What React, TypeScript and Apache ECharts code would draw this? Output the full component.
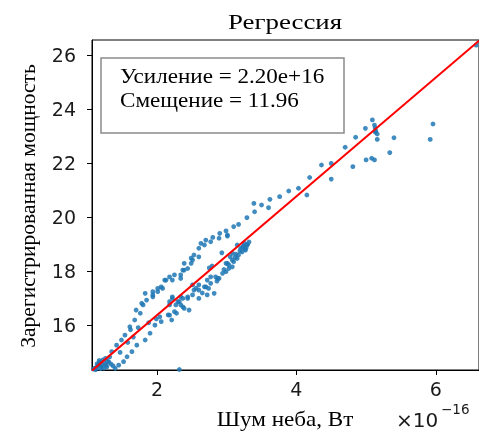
import React, { useEffect, useRef } from "react";
import * as echarts from "echarts";

// Sky noise (×1e-16 W) vs registered power
const noiseX: number[] = [
  5.09, 4.99, 5.12, 5.13, 5.14, 5.16, 5.13, 5.16, 5.40, 5.96, 5.92, 4.85, 4.70, 5.34, 5.00, 5.08, 5.12, 4.81, 4.36, 4.50,
  4.19, 4.50, 4.03, 3.89, 3.76, 4.15, 6.58,
  3.62, 3.39, 3.50, 3.60, 3.40, 3.29, 3.17, 3.10, 2.99, 2.90, 3.01, 2.80, 2.70, 2.63,
  3.25, 3.29, 3.26, 3.22, 3.17, 3.27, 3.32, 3.23, 2.93, 3.08, 3.03, 2.99, 2.79, 2.75,
  3.01, 2.89, 2.77, 2.68, 2.60, 2.53, 2.49, 2.39, 2.37, 2.34, 2.22, 2.13, 2.08, 2.01, 1.94, 1.85, 1.80,
  3.15, 3.08, 3.01, 2.94, 2.87, 2.77, 2.72, 2.70, 2.60, 2.53, 2.51, 2.44, 2.34, 2.30, 2.22, 2.18, 2.37,
  2.11, 2.18, 2.25, 2.34, 2.39, 2.44, 2.49, 2.51, 2.60, 1.94, 2.01, 2.06,
  2.60, 2.68, 2.77, 2.84, 2.89, 2.99, 3.03, 3.10, 3.15, 3.08, 2.56, 2.51, 2.44, 2.37, 2.32, 2.27, 2.18, 2.22,
  2.34, 2.39, 2.25, 2.18, 2.46, 2.60, 2.72, 2.82,
  1.83, 1.94, 1.78, 1.76, 1.68, 1.61, 1.54, 1.49, 1.42, 1.35, 1.26, 1.16,
  2.16, 2.06, 1.97, 1.90, 1.83, 1.71, 1.64, 1.57, 1.52, 1.45, 1.40, 2.28, 2.21,
  1.11, 1.15, 1.18, 1.22, 1.27, 1.31, 1.32, 1.24, 1.37, 2.32,
  1.09, 1.13, 1.20, 1.25, 1.29, 1.34, 1.14, 1.19, 1.21, 1.28, 1.12, 1.17,
  3.20, 3.24, 3.28, 3.30, 3.19, 3.13, 3.05, 3.12, 2.96, 2.86, 2.65, 2.74,
  1.47, 1.58, 1.66, 1.73, 1.88, 1.99, 2.04, 1.70, 1.62,
];
const powerY: number[] = [
  23.59, 23.28, 23.40, 23.29, 23.18, 23.07, 23.14, 22.87, 22.93, 23.44, 22.87, 22.95, 22.58, 22.38, 22.11, 22.17, 22.11, 21.86, 21.92, 21.98,
  21.46, 21.40, 21.06, 20.96, 20.75, 20.81, 26.36,
  20.65, 20.50, 20.44, 20.34, 20.19, 19.97, 19.72, 19.64, 19.48, 19.39, 19.29, 19.24, 19.14, 19.02,
  19.03, 18.96, 18.81, 18.70, 18.59, 18.77, 19.07, 18.88, 18.67, 18.40, 18.22, 18.28, 18.18, 18.11,
  19.33, 19.21, 19.08, 18.96, 18.84, 18.59, 18.47, 18.28, 18.03, 17.85, 17.66, 17.66, 17.35, 17.23, 17.11, 16.92, 16.74,
  18.96, 18.65, 18.28, 17.91, 17.72, 17.78, 17.66, 17.41, 17.29, 17.29, 17.48, 17.04, 17.04, 16.86, 16.98, 16.74, 16.67,
  17.66, 17.78, 17.85, 17.72, 18.03, 18.09, 18.28, 18.40, 18.52, 17.23, 17.35, 17.41,
  17.48, 17.41, 17.54, 17.78, 17.72, 17.97, 18.09, 18.34, 18.46, 18.15, 17.35, 17.11, 16.98, 16.98, 16.86, 16.74, 16.86, 17.04,
  16.74, 16.61, 16.49, 16.36, 16.55, 16.98, 17.11, 17.17,
  17.17, 17.04, 16.80, 16.43, 16.18, 15.93, 15.62, 15.44, 15.25, 15.01, 14.76, 14.51,
  16.37, 16.12, 15.99, 15.69, 15.44, 15.25, 15.01, 14.82, 14.64, 14.51, 14.39, 16.43, 16.18,
  14.40, 14.48, 14.62, 14.70, 14.51, 14.62, 14.81, 14.40, 14.48, 14.35,
  14.36, 14.42, 14.45, 14.58, 14.66, 14.55, 14.56, 14.38, 14.52, 14.44, 14.34, 14.68,
  18.84, 18.92, 18.86, 18.98, 18.74, 18.62, 18.52, 18.50, 18.05, 17.62, 17.18, 17.35,
  14.98, 15.35, 15.55, 15.90, 16.08, 16.22, 16.30, 16.55, 15.82,
];

const gain = 2.2; // ×1e16, x in units of 1e-16
const offset = 11.96;
const xTicks: number[] = [2, 4, 6];
const yTicks: number[] = [16, 18, 20, 22, 24, 26];
const xMin = 1.067;
const xMax = 6.62;
const yMin = 14.33;
const yMax = 26.55;

export default function App() {
  const ref = useRef<HTMLDivElement>(null);
  useEffect(() => {
    if (!ref.current) return;
    const chart = echarts.init(ref.current, null, { renderer: "svg" });
    const pts = noiseX.map((x, i) => [x, powerY[i]]);
    const tickFont = { fontFamily: "DejaVu Sans", fontSize: 19, color: "#1a1a1a" };
    const serif = "Liberation Serif";
    chart.setOption({
      animation: false,
      grid: {
        left: 92,
        top: 40,
        right: -3,
        bottom: 67,
        show: true,
        borderColor: "#000",
        borderWidth: 1,
        backgroundColor: "#fff",
      },
      xAxis: {
        type: "value",
        min: xMin,
        max: xMax,
        splitLine: { show: false },
        axisLine: { lineStyle: { color: "#000", width: 1 } },
        axisTick: { show: true, length: 5, customValues: xTicks, lineStyle: { color: "#000" } },
        axisLabel: { ...tickFont, margin: 9, customValues: xTicks, formatter: (v: number) => String(Math.round(v)) },
      },
      yAxis: {
        type: "value",
        min: yMin,
        max: yMax,
        splitLine: { show: false },
        axisLine: { show: true, lineStyle: { color: "#000", width: 1 } },
        axisTick: { show: true, length: 5, customValues: yTicks, lineStyle: { color: "#000" } },
        axisLabel: { ...tickFont, margin: 16, customValues: yTicks, formatter: (v: number) => String(Math.round(v)) },
      },
      series: [
        {
          type: "scatter",
          data: pts,
          symbolSize: 4.8,
          itemStyle: { color: "#1f77b4", opacity: 0.85 },
          silent: true,
        },
        {
          type: "line",
          data: [
            [xMin, gain * xMin + offset],
            [xMax, gain * xMax + offset],
          ],
          symbol: "none",
          lineStyle: { color: "#ff0000", width: 2 },
          clip: true,
          silent: true,
        },
      ],
      graphic: [
        {
          type: "text",
          x: 285,
          y: 22,
          scaleX: 1.28,
          style: {
            text: "Регрессия",
            fontFamily: serif,
            fontSize: 21,
            fill: "#000",
            textAlign: "center",
            textVerticalAlign: "middle",
          },
        },
        {
          type: "rect",
          shape: { x: 101, y: 58, width: 243, height: 75 },
          style: { fill: "#fff", stroke: "#8a8a8a", lineWidth: 1.5 },
          z: 100,
        },
        {
          type: "text",
          x: 120,
          y: 76,
          z: 101,
          scaleX: 1.1,
          style: {
            text: "Усиление = 2.20e+16",
            fontFamily: serif,
            fontSize: 21,
            fill: "#000",
            textAlign: "left",
            textVerticalAlign: "middle",
          },
        },
        {
          type: "text",
          x: 120,
          y: 100,
          z: 101,
          scaleX: 1.1,
          style: {
            text: "Смещение = 11.96",
            fontFamily: serif,
            fontSize: 21,
            fill: "#000",
            textAlign: "left",
            textVerticalAlign: "middle",
          },
        },
        {
          type: "text",
          x: 285,
          y: 419,
          scaleX: 1.1,
          style: {
            text: "Шум неба, Вт",
            fontFamily: serif,
            fontSize: 21,
            fill: "#000",
            textAlign: "center",
            textVerticalAlign: "middle",
          },
        },
        {
          type: "text",
          x: 28,
          y: 206,
          rotation: Math.PI / 2,
          style: {
            text: "Зарегистрированная мощность",
            fontFamily: serif,
            fontSize: 21.5,
            fill: "#000",
            textAlign: "center",
            textVerticalAlign: "middle",
          },
        },
        {
          type: "text",
          x: 396,
          y: 420,
          style: {
            text: "×10",
            fontFamily: "DejaVu Sans",
            fontSize: 20,
            fill: "#1a1a1a",
            textAlign: "left",
            textVerticalAlign: "middle",
          },
        },
        {
          type: "text",
          x: 441,
          y: 409,
          style: {
            text: "−16",
            fontFamily: "DejaVu Sans",
            fontSize: 13.5,
            fill: "#1a1a1a",
            textAlign: "left",
            textVerticalAlign: "middle",
          },
        },
      ],
    });
    return () => chart.dispose();
  }, []);
  return (
    <div
      ref={ref}
      style={{ position: "fixed", left: 0, top: 0, width: 479, height: 437 }}
    />
  );
}
